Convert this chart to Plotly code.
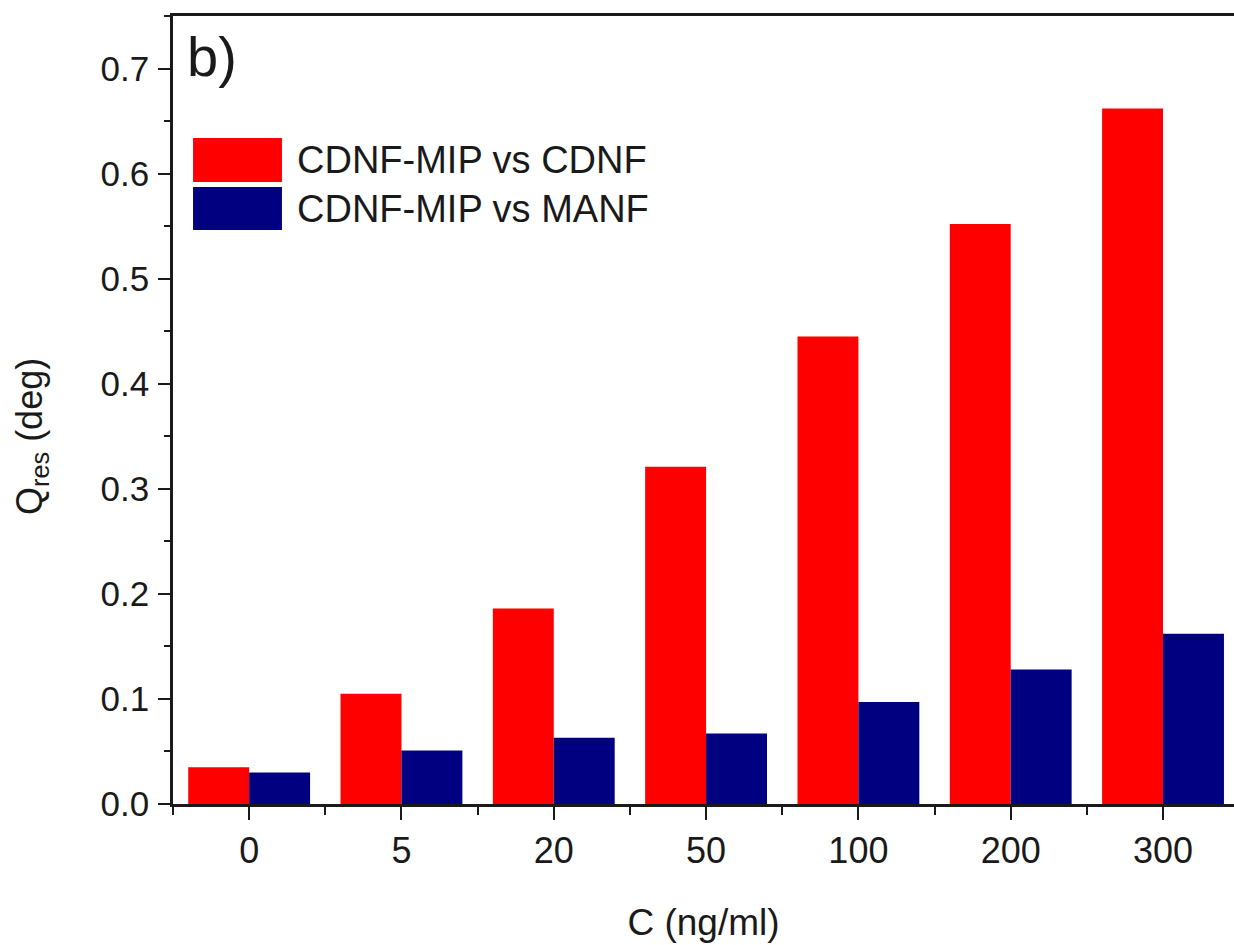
import plotly.graph_objects as go

# Concentrations (categories) and residual responses for the two pairings
concentrations = ["0", "5", "20", "50", "100", "200", "300"]
series_names = ["CDNF-MIP vs CDNF", "CDNF-MIP vs MANF"]
q_cdnf = [0.035, 0.105, 0.186, 0.321, 0.445, 0.552, 0.662]
q_manf = [0.030, 0.051, 0.063, 0.067, 0.097, 0.128, 0.162]
y_ticks = [0.0, 0.1, 0.2, 0.3, 0.4, 0.5, 0.6, 0.7]

RED = "#FF0000"
NAVY = "#000080"
INK = "#1a1a1a"
FONT = "Arial, Liberation Sans, Helvetica, sans-serif"

x_pos = list(range(len(concentrations)))

fig = go.Figure()
fig.add_trace(go.Bar(x=x_pos, y=q_cdnf, name=series_names[0],
                     marker=dict(color=RED, line=dict(width=0))))
fig.add_trace(go.Bar(x=x_pos, y=q_manf, name=series_names[1],
                     marker=dict(color=NAVY, line=dict(width=0))))

fig.update_layout(
    width=1234, height=945,
    margin=dict(l=173, r=0, t=16, b=141),
    paper_bgcolor="white", plot_bgcolor="white",
    barmode="group", bargap=0.2, bargroupgap=0.0,
    showlegend=False,
    font=dict(family=FONT, color=INK, size=35),
)

fig.update_xaxes(
    range=[-0.5, 6.466],
    tickmode="array", tickvals=x_pos, ticktext=concentrations,
    ticks="outside", ticklen=13, tickwidth=2, tickcolor=INK,
    minor=dict(tickmode="array", tickvals=[i - 0.5 for i in range(len(concentrations) + 1)],
               ticks="outside", ticklen=8, tickwidth=2, tickcolor=INK),
    showline=True, linecolor=INK, linewidth=2.5, mirror=True,
    showgrid=False, zeroline=False,
    tickfont=dict(size=36, color=INK),
    title=dict(text="C (ng/ml)", font=dict(size=37, color=INK), standoff=40),
)

fig.update_yaxes(
    range=[0, 0.75],
    tickmode="array", tickvals=y_ticks, ticktext=[f"{v:.1f}" for v in y_ticks],
    ticks="outside", ticklen=12, tickwidth=2, tickcolor=INK,
    minor=dict(tickmode="array", tickvals=[v + 0.05 for v in y_ticks],
               ticks="outside", ticklen=6, tickwidth=2, tickcolor=INK),
    showline=True, linecolor=INK, linewidth=2.5, mirror=False,
    showgrid=False, zeroline=False,
    tickfont=dict(size=35, color=INK),
    ticklabelstandoff=2,
)

# Y-axis title, placed slightly below the plot-area centre
fig.add_annotation(xref="paper", yref="paper", x=-0.133, y=0.467,
                   xanchor="center", yanchor="middle", showarrow=False,
                   textangle=-90, text="Q<sub>res</sub> (deg)",
                   font=dict(size=36, color=INK, family=FONT))

# Panel letter
fig.add_annotation(xref="paper", yref="paper", x=0.011, y=0.948,
                   xanchor="left", yanchor="middle", showarrow=False,
                   text="b)", font=dict(size=56, color=INK, family=FONT))

# Legend: large colour swatches with labels
legend_rows = [(series_names[0], RED, 0.7893, 0.8452),
               (series_names[1], NAVY, 0.7284, 0.7830)]
for label, color, y0, y1 in legend_rows:
    fig.add_shape(type="rect", xref="paper", yref="paper",
                  x0=0.0189, x1=0.1027, y0=y0, y1=y1,
                  fillcolor=color, line=dict(width=0))
    fig.add_annotation(xref="paper", yref="paper", x=0.115, y=(y0 + y1) / 2,
                       xanchor="left", yanchor="middle", showarrow=False,
                       text=label, font=dict(size=38, color=INK, family=FONT))

fig.write_html("out.html")
